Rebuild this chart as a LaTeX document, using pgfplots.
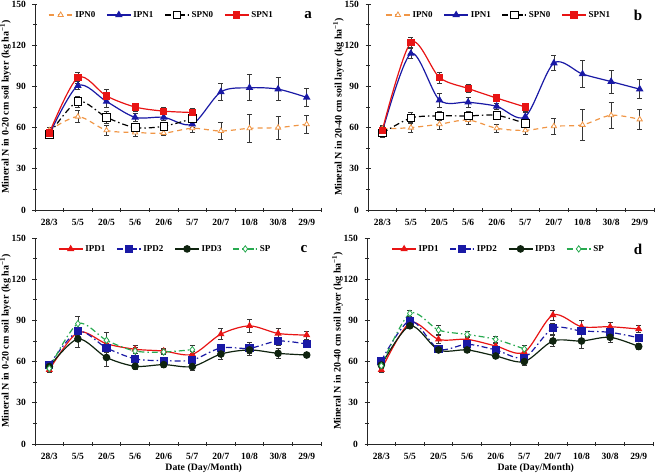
\documentclass[border=0pt]{standalone}
\usepackage{fontspec}
\setmainfont{Liberation Serif}
\usepackage{pgfplots}
\pgfplotsset{compat=1.18}

\definecolor{cOr}{RGB}{240,150,70}
\definecolor{cBl}{RGB}{25,25,165}
\definecolor{cRd}{RGB}{232,20,20}
\definecolor{cGr}{RGB}{40,170,80}
\definecolor{cBk}{RGB}{15,35,15}
\definecolor{cErr}{RGB}{55,55,55}

\pgfplotsset{
 panel/.style={
  scale only axis, width=286pt, height=206pt,
  xmin=-0.5, xmax=9.5, ymin=0, ymax=150,
  axis x line*=bottom, axis y line*=left,
  axis line style={line width=0.8pt, black!85},
  xtick={0,...,9}, xticklabels={28/3,5/5,20/5,5/6,20/6,5/7,20/7,10/8,30/8,29/9},
  ytick={0,30,...,150}, minor ytick={15,45,...,135}, minor xtick={-0.5,0.5,...,9.5},
  major x tick style={draw=none},
  tick align=center, major tick length=5pt, minor tick length=4pt,
  every tick/.style={line width=0.7pt, black!85},
  /pgf/number format/assume math mode=true,
  ticklabel style={font=\bfseries\fontsize{9.5}{11}\selectfont},
  yticklabel style={xshift=-3pt},
  xticklabel style={yshift=-3pt},
  ylabel style={font=\bfseries\fontsize{10}{11}\selectfont, at={(axis description cs:-0.103,0.5)}, anchor=center},
  xlabel style={font=\bfseries\fontsize{9.8}{11}\selectfont, at={(axis description cs:0.59,0)}, anchor=center, yshift=-24pt},
  legend columns=4,
  legend cell align=left,
  legend style={draw=none, fill=none, font=\bfseries\fontsize{9}{10}\selectfont, anchor=west, inner sep=0pt,
    /tikz/every even column/.append style={column sep=9pt}},
  legend image code/.code={\draw[mark repeat=2,mark phase=2] plot coordinates {(0pt,0pt) (12pt,0pt) (24pt,0pt)};},
  clip=false,
  every axis plot/.append style={smooth, line width=1.2pt,
    error bars/y dir=both, error bars/y explicit,
    error bars/error bar style={line width=0.7pt, solid, cErr},
    error bars/error mark options={rotate=90, mark size=2.5pt, line width=0.7pt, cErr, solid}},
 }
}

\begin{document}
\begin{tikzpicture}
\path[use as bounding box] (0,0) rectangle (655pt,475pt);

% ---------------- panel a
\begin{axis}[panel, at={(35pt,265pt)}, anchor=south west,
  ylabel={Mineral N in 0-20 cm soil layer (kg ha\textsuperscript{−1})},
  legend style={at={(axis description cs:0.045,0.947)}}]
\addplot[cOr, dashed, dash pattern=on 5pt off 4pt, mark=triangle*, mark options={solid, fill=white, draw=cOr, mark size=3pt, line width=0.8pt}]
 table[x=x,y=y,y error=e]{
x y e
0 58 2
1 68 4.5
2 58 4
3 56.5 3
4 56 2
5 59.5 3
6 57.5 6
7 59.5 10
8 60 8.5
9 62.5 6.5
};
\addlegendentry{IPN0}
\addplot[cBl, mark=triangle*, mark options={solid, fill=cBl, mark size=3.2pt}]
 table[x=x,y=y,y error=e]{
x y e
0 55 3
1 90.5 3
2 79 4
3 67.5 3
4 67.5 2
5 62.5 2.5
6 86 6
7 89 9.5
8 88 8.5
9 82 6.5
};
\addlegendentry{IPN1}
\addplot[black, dash pattern=on 6pt off 3pt on 1.5pt off 3pt, mark=square*, mark options={solid, fill=white, draw=black, mark size=3.8pt, line width=0.8pt}]
 table[x=x,y=y,y error=e]{
x y e
0 55 3
1 79 4
2 67.5 4.5
3 60 3
4 61 2.5
5 66.5 3
};
\addlegendentry{SPN0}
\addplot[cRd, mark=square*, mark options={solid, fill=cRd, mark size=3pt}]
 table[x=x,y=y,y error=e]{
x y e
0 56 3
1 96.5 4
2 83 4.5
3 75 3
4 72 2.5
5 71 3
};
\addlegendentry{SPN1}
\node[font=\bfseries\fontsize{15}{16}\selectfont] at (rel axis cs:0.955,0.947) {a};
\end{axis}

% ---------------- panel b
\begin{axis}[panel, at={(368pt,265pt)}, anchor=south west,
  ylabel={Mineral N in 20-40 cm soil layer (kg ha\textsuperscript{−1})},
  legend style={at={(axis description cs:0.06,0.947)}}]
\addplot[cOr, dashed, dash pattern=on 5pt off 4pt, mark=triangle*, mark options={solid, fill=white, draw=cOr, mark size=3pt, line width=0.8pt}]
 table[x=x,y=y,y error=e]{
x y e
0 59 3
1 60 3.5
2 62.5 3.5
3 65.5 3
4 59.5 3
5 58 3
6 61 6
7 62 11
8 69 9.5
9 66 7
};
\addlegendentry{IPN0}
\addplot[cBl, mark=triangle*, mark options={solid, fill=cBl, mark size=3.2pt}]
 table[x=x,y=y,y error=e]{
x y e
0 57 3
1 114 3.5
2 80 5
3 78.5 3.5
4 75.5 2.5
5 68 3
6 107 5.5
7 99 10
8 93.5 8.5
9 88 7
};
\addlegendentry{IPN1}
\addplot[black, dash pattern=on 6pt off 3pt on 1.5pt off 3pt, mark=square*, mark options={solid, fill=white, draw=black, mark size=3.8pt, line width=0.8pt}]
 table[x=x,y=y,y error=e]{
x y e
0 56 3
1 67 4
2 68.5 3.5
3 68.5 3
4 69 3
5 63 3
};
\addlegendentry{SPN0}
\addplot[cRd, mark=square*, mark options={solid, fill=cRd, mark size=3pt}]
 table[x=x,y=y,y error=e]{
x y e
0 58 3
1 122 3.5
2 96.5 4
3 88.5 3
4 81.5 2.5
5 75 3
};
\addlegendentry{SPN1}
\node[font=\bfseries\fontsize{15}{16}\selectfont] at (rel axis cs:0.944,0.947) {b};
\end{axis}

% ---------------- panel c
\begin{axis}[panel, at={(35pt,31pt)}, anchor=south west,
  ylabel={Mineral N in 0-20 cm soil layer (kg ha\textsuperscript{−1})},
  xlabel={Date (Day/Month)},
  legend style={at={(axis description cs:0.08,0.947)}}]
\addplot[cRd, mark=triangle*, mark options={solid, fill=cRd, mark size=3pt}]
 table[x=x,y=y,y error=e]{
x y e
0 54 2
1 81.3 3
2 73 3
3 69 3
4 67.7 2
5 65.3 2
6 80 4
7 86 5
8 80.5 3.5
9 79.3 3
};
\addlegendentry{IPD1}
\addplot[cBl, dash pattern=on 6pt off 3pt on 1.5pt off 3pt, mark=square*, mark options={solid, fill=cBl, mark size=3.5pt}]
 table[x=x,y=y,y error=e]{
x y e
0 57.5 2
1 82 3
2 70 3
3 62 2
4 60.7 2
5 61.2 2
6 70 2.5
7 69.7 4
8 75 3
9 72.8 2
};
\addlegendentry{IPD2}
\addplot[cBk, mark=*, mark options={solid, fill=cBk, mark size=3.2pt}]
 table[x=x,y=y,y error=e]{
x y e
0 56.4 2
1 76.5 6
2 63 6.5
3 56.6 2
4 57.8 2
5 56.4 3
6 65.5 4
7 68.5 4
8 66 3.5
9 64.8 2
};
\addlegendentry{IPD3}
\addplot[cGr, dash pattern=on 6pt off 3pt on 1.5pt off 3pt, mark=diamond*, mark options={solid, fill=white, draw=cGr, mark size=3.2pt, line width=0.8pt}]
 table[x=x,y=y,y error=e]{
x y e
0 55 2
1 87.6 5
2 75.5 5.5
3 67.7 3
4 67 2
5 68.7 3
};
\addlegendentry{SP}
\node[font=\bfseries\fontsize{15}{16}\selectfont] at (rel axis cs:0.94,0.947) {c};
\end{axis}

% ---------------- panel d
\begin{axis}[panel, at={(367pt,31pt)}, anchor=south west,
  ylabel={Mineral N in 20-40 cm soil layer (kg ha\textsuperscript{−1})},
  xlabel={Date (Day/Month)},
  legend style={at={(axis description cs:0.085,0.947)}}]
\addplot[cRd, mark=triangle*, mark options={solid, fill=cRd, mark size=3pt}]
 table[x=x,y=y,y error=e]{
x y e
0 54 2
1 88.3 2
2 76.2 3
3 76.2 2
4 71.4 2
5 66.8 2.5
6 93.9 3.5
7 85.4 5
8 85.4 3.5
9 83.7 2.5
};
\addlegendentry{IPD1}
\addplot[cBl, dash pattern=on 6pt off 3pt on 1.5pt off 3pt, mark=square*, mark options={solid, fill=cBl, mark size=3.5pt}]
 table[x=x,y=y,y error=e]{
x y e
0 60.5 2
1 89.8 2
2 69.2 2
3 72.6 2
4 68.5 2
5 62.9 2
6 84.2 4
7 82.3 2.5
8 81.3 2.5
9 77.4 2
};
\addlegendentry{IPD2}
\addplot[cBk, mark=*, mark options={solid, fill=cBk, mark size=3.2pt}]
 table[x=x,y=y,y error=e]{
x y e
0 57.5 2
1 86.1 2
2 68.5 2
3 68.5 2
4 64.1 2
5 60 3
6 75 4
7 75 5
8 77.7 4
9 71 2
};
\addlegendentry{IPD3}
\addplot[cGr, dash pattern=on 6pt off 3pt on 1.5pt off 3pt, mark=diamond*, mark options={solid, fill=white, draw=cGr, mark size=3.2pt, line width=0.8pt}]
 table[x=x,y=y,y error=e]{
x y e
0 57 2
1 95.1 2.5
2 83 3.5
3 79.8 2
4 76.2 2
5 69.2 3
};
\addlegendentry{SP}
\node[font=\bfseries\fontsize{15}{16}\selectfont] at (rel axis cs:0.948,0.947) {d};
\end{axis}
\end{tikzpicture}
\end{document}
